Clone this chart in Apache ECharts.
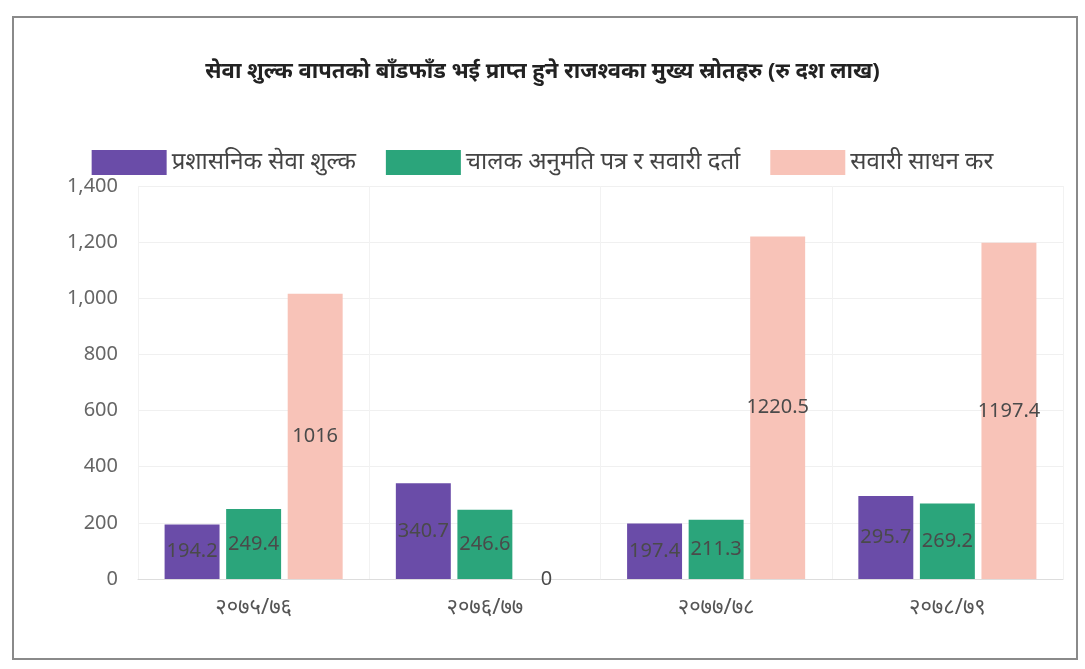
<!DOCTYPE html>
<html>
<head>
<meta charset="utf-8">
<title>सेवा शुल्क</title>
<script src="https://cdn.jsdelivr.net/npm/echarts@6/dist/echarts.min.js"></script>
<style>
	html, body { margin: 0; padding: 0; background: #fff; }
	#frame { position: absolute; left: 12px; top: 16px; width: 1066px; height: 644px; border: 2px solid #8a8a8a; box-sizing: border-box; }
	#container { position: absolute; left: 0; top: 0; width: 1085px; height: 669px; }
</style>
</head>
<body>
<div id="frame"></div>
<div id="container"></div>
<script>
	// आर्थिक वर्ष
	var years = ['२०७५/७६', '२०७६/७७', '२०७७/७८', '२०७८/७९'];
	var seriesNames = ['प्रशासनिक सेवा शुल्क', 'चालक अनुमति पत्र र सवारी दर्ता', 'सवारी साधन कर'];
	var adminFee = [194.2, 340.7, 197.4, 295.7];
	var licenseReg = [249.4, 246.6, 211.3, 269.2];
	var vehicleTax = [1016, 0, 1220.5, 1197.4];
	var colors = ['#6a4ca8', '#2ba57b', '#f8c3b8'];

	var dom = document.getElementById("container");
	var myChart = echarts.init(dom);
	var font = "'Noto Sans', 'DejaVu Sans', sans-serif";

	function makeSeries(name, data, color) {
		return {
			name: name,
			type: 'bar',
			data: data,
			barGap: '12%',
			barCategoryGap: '23%',
			itemStyle: { color: color },
			label: {
				show: true,
				position: 'inside',
				color: '#4a4a4a',
				fontSize: 20,
				fontFamily: font
			}
		};
	}

	var option = {
		animation: false,
		title: {
			text: 'सेवा शुल्क वापतको बाँडफाँड भई प्राप्त हुने राजश्वका मुख्य स्रोतहरु (रु दश लाख)',
			left: 'center',
			top: 56,
			textStyle: { fontSize: 22, fontWeight: 'bold', color: '#222', fontFamily: font }
		},
		legend: {
			top: 145,
			left: 'center',
			icon: 'rect',
			itemWidth: 75,
			itemHeight: 25,
			itemGap: 30,
			textStyle: { fontSize: 24, color: '#444', fontFamily: font },
			data: seriesNames
		},
		grid: {
			left: 138,
			right: 22,
			top: 186,
			bottom: 90
		},
		xAxis: {
			type: 'category',
			data: years,
			axisTick: { show: false },
			axisLine: { lineStyle: { color: '#ddd' } },
			splitLine: { show: true, lineStyle: { color: '#f2f2f2' } },
			axisLabel: { fontSize: 22, color: '#555', margin: 18, fontFamily: font }
		},
		yAxis: {
			type: 'value',
			min: 0,
			max: 1400,
			interval: 200,
			axisLabel: { fontSize: 20, color: '#666', margin: 20, fontFamily: font },
			splitLine: { lineStyle: { color: '#f0f0f0' } }
		},
		series: [
			makeSeries(seriesNames[0], adminFee, colors[0]),
			makeSeries(seriesNames[1], licenseReg, colors[1]),
			makeSeries(seriesNames[2], vehicleTax, colors[2])
		]
	};
	if(option && typeof option === "object") {
		myChart.setOption(option, true);
	}
</script>
</body>
</html>
